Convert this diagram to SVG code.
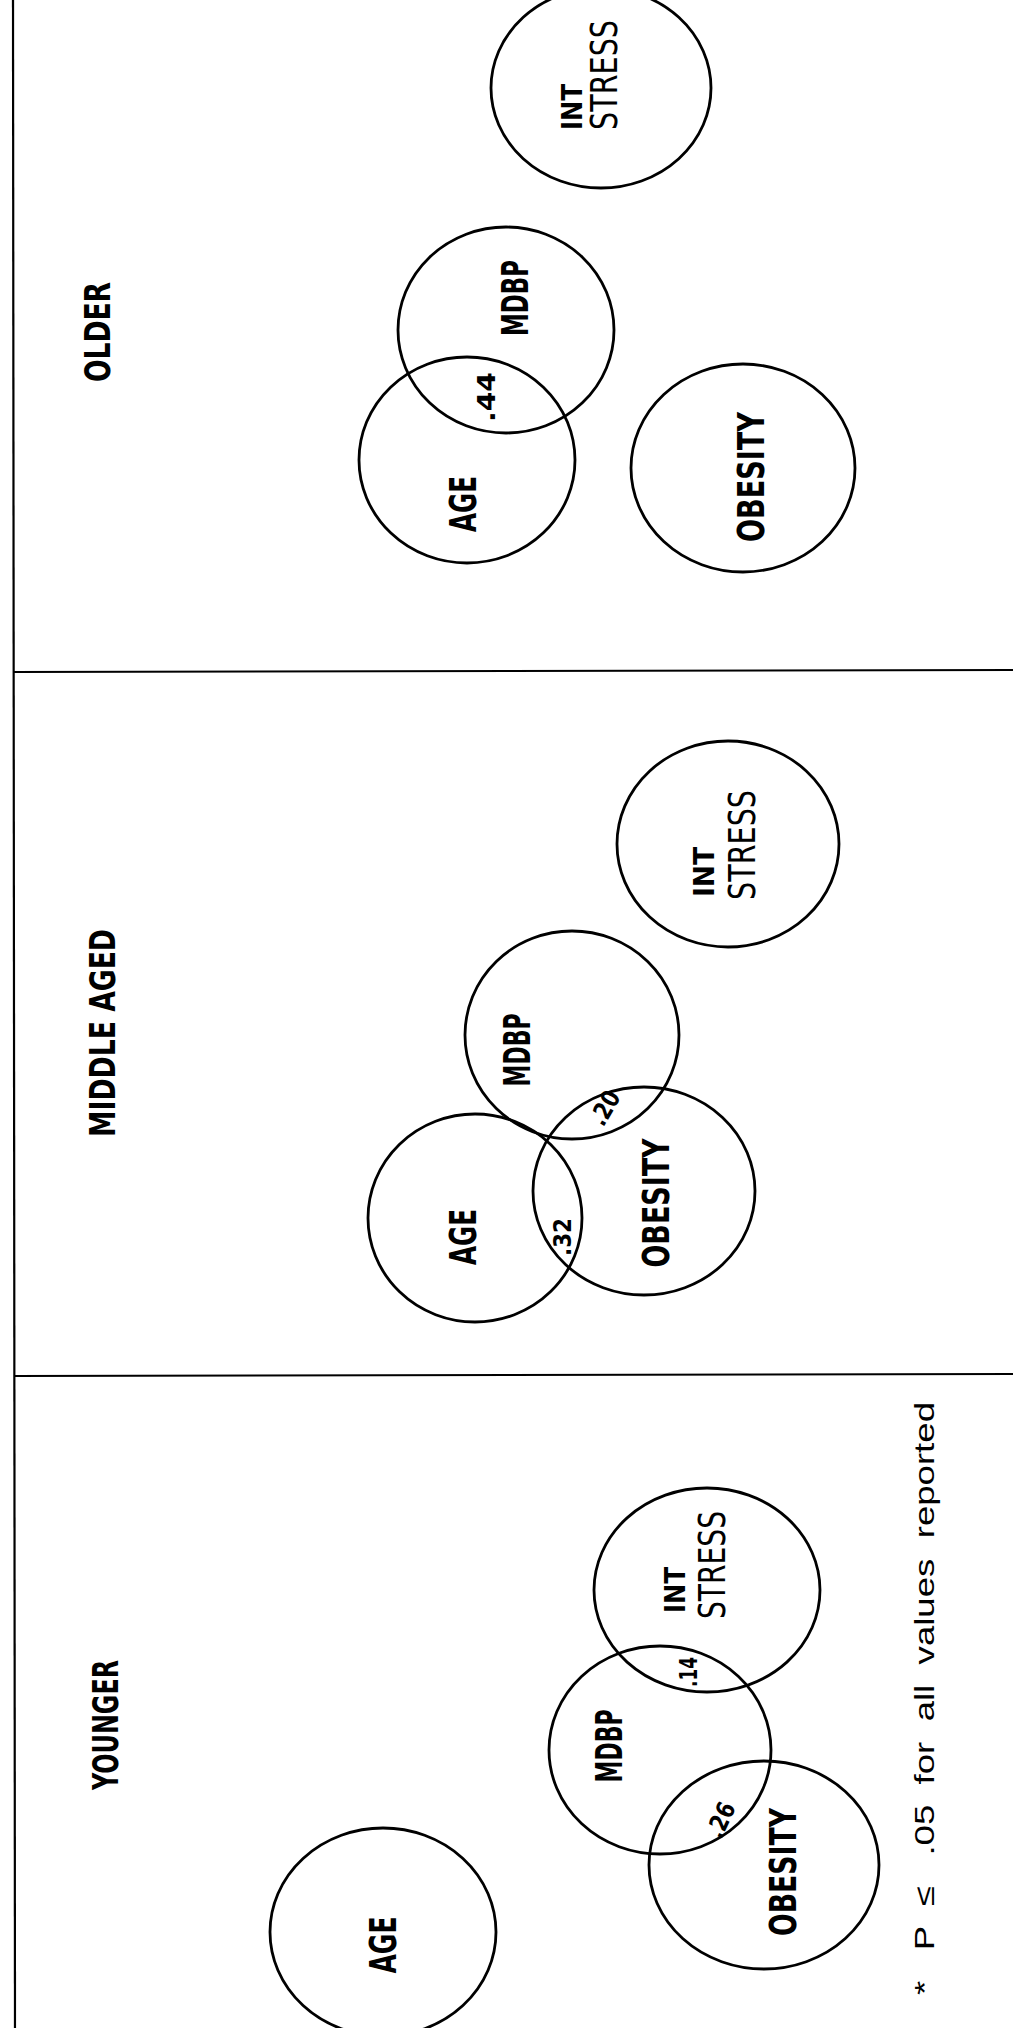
<svg xmlns="http://www.w3.org/2000/svg" width="1013" height="2028" viewBox="0 0 1013 2028">
<style>
.bg{fill:#ffffff}
.rule{stroke:#000;stroke-width:2.2;fill:none}
.c{fill:none;stroke:#000;stroke-width:2.8}
text{fill:#000}
.lbl{font-family:"DejaVu Sans Condensed","Liberation Sans Narrow","Liberation Sans",sans-serif;font-stretch:condensed;font-weight:bold;font-size:38px}
.ttl{font-family:"DejaVu Sans Condensed","Liberation Sans Narrow","Liberation Sans",sans-serif;font-stretch:condensed;font-weight:bold;font-size:36px}
.int{font-family:"DejaVu Sans Condensed","Liberation Sans Narrow","Liberation Sans",sans-serif;font-stretch:condensed;font-weight:bold;font-size:28px}
.st{font-family:"DejaVu Sans Condensed","Liberation Sans Narrow","Liberation Sans",sans-serif;font-stretch:condensed;font-weight:normal;font-size:37px}
.num{font-family:"DejaVu Sans","Liberation Sans",sans-serif;font-weight:bold;font-size:25px}
.fn{font-family:"Liberation Sans","DejaVu Sans",sans-serif;font-size:28px}
</style>
<rect class="bg" x="0" y="0" width="1013" height="2028"/>
<g id="frame">
<line class="rule" x1="13" y1="0" x2="15" y2="2028"/>
<line class="rule" x1="13" y1="672" x2="1013" y2="670"/>
<line class="rule" x1="14" y1="1376" x2="1013" y2="1374"/>
</g>
<g id="connectors"></g>

<!-- OLDER -->
<g id="older-title"><text class="ttl" transform="translate(97,332) rotate(-90)" text-anchor="middle" dominant-baseline="central" textLength="100" lengthAdjust="spacingAndGlyphs">OLDER</text></g>
<g id="older-intstress">
<ellipse class="c" cx="601" cy="88" rx="110" ry="100"/>
<text class="int" transform="translate(572,130) rotate(-90)" text-anchor="start" dominant-baseline="central" textLength="46" lengthAdjust="spacingAndGlyphs">INT</text>
<text class="st" transform="translate(604,130) rotate(-90)" text-anchor="start" dominant-baseline="central" textLength="110" lengthAdjust="spacingAndGlyphs">STRESS</text>
</g>
<g id="older-mdbp">
<ellipse class="c" cx="506" cy="330" rx="108" ry="103"/>
<text class="lbl" transform="translate(515,298) rotate(-90)" text-anchor="middle" dominant-baseline="central" textLength="76" lengthAdjust="spacingAndGlyphs">MDBP</text>
</g>
<g id="older-age">
<ellipse class="c" cx="467" cy="460" rx="108" ry="103"/>
<text class="lbl" transform="translate(463,504) rotate(-90)" text-anchor="middle" dominant-baseline="central" textLength="56" lengthAdjust="spacingAndGlyphs">AGE</text>
</g>
<g id="older-obesity">
<ellipse class="c" cx="743" cy="468" rx="112" ry="104"/>
<text class="lbl" transform="translate(751,477) rotate(-90)" text-anchor="middle" dominant-baseline="central" textLength="130" lengthAdjust="spacingAndGlyphs">OBESITY</text>
</g>
<g id="older-r"><text class="num" transform="translate(486,397) rotate(-90)" text-anchor="middle" dominant-baseline="central" textLength="50" lengthAdjust="spacingAndGlyphs">.44</text></g>

<!-- MIDDLE AGED -->
<g id="middle-title"><text class="ttl" transform="translate(102,1033) rotate(-90)" text-anchor="middle" dominant-baseline="central" textLength="208" lengthAdjust="spacingAndGlyphs">MIDDLE AGED</text></g>
<g id="middle-intstress">
<ellipse class="c" cx="728" cy="844" rx="111" ry="103"/>
<text class="int" transform="translate(704,897) rotate(-90)" text-anchor="start" dominant-baseline="central" textLength="50" lengthAdjust="spacingAndGlyphs">INT</text>
<text class="st" transform="translate(742,900) rotate(-90)" text-anchor="start" dominant-baseline="central" textLength="110" lengthAdjust="spacingAndGlyphs">STRESS</text>
</g>
<g id="middle-mdbp">
<ellipse class="c" cx="572" cy="1035" rx="107" ry="104"/>
<text class="lbl" transform="translate(517,1050) rotate(-90)" text-anchor="middle" dominant-baseline="central" textLength="73" lengthAdjust="spacingAndGlyphs">MDBP</text>
</g>
<g id="middle-age">
<ellipse class="c" cx="475" cy="1218" rx="107" ry="104"/>
<text class="lbl" transform="translate(463,1237) rotate(-90)" text-anchor="middle" dominant-baseline="central" textLength="56" lengthAdjust="spacingAndGlyphs">AGE</text>
</g>
<g id="middle-obesity">
<ellipse class="c" cx="644" cy="1191" rx="111" ry="104"/>
<text class="lbl" transform="translate(656,1203) rotate(-90)" text-anchor="middle" dominant-baseline="central" textLength="129" lengthAdjust="spacingAndGlyphs">OBESITY</text>
</g>
<g id="middle-r1"><text class="num" transform="translate(562,1237) rotate(-90)" text-anchor="middle" dominant-baseline="central" textLength="38" lengthAdjust="spacingAndGlyphs">.32</text></g>
<g id="middle-r2"><text class="num" transform="translate(605,1108) rotate(-60)" text-anchor="middle" dominant-baseline="central" textLength="36" lengthAdjust="spacingAndGlyphs">.20</text></g>

<!-- YOUNGER -->
<g id="younger-title"><text class="ttl" transform="translate(105,1725) rotate(-90)" text-anchor="middle" dominant-baseline="central" textLength="130" lengthAdjust="spacingAndGlyphs">YOUNGER</text></g>
<g id="younger-age">
<ellipse class="c" cx="383" cy="1932" rx="113" ry="104"/>
<text class="lbl" transform="translate(383,1945) rotate(-90)" text-anchor="middle" dominant-baseline="central" textLength="57" lengthAdjust="spacingAndGlyphs">AGE</text>
</g>
<g id="younger-mdbp">
<ellipse class="c" cx="660" cy="1750" rx="111" ry="104"/>
<text class="lbl" transform="translate(609,1746) rotate(-90)" text-anchor="middle" dominant-baseline="central" textLength="73" lengthAdjust="spacingAndGlyphs">MDBP</text>
</g>
<g id="younger-intstress">
<ellipse class="c" cx="707" cy="1590" rx="113" ry="102"/>
<text class="int" transform="translate(675,1613) rotate(-90)" text-anchor="start" dominant-baseline="central" textLength="46" lengthAdjust="spacingAndGlyphs">INT</text>
<text class="st" transform="translate(712,1619) rotate(-90)" text-anchor="start" dominant-baseline="central" textLength="108" lengthAdjust="spacingAndGlyphs">STRESS</text>
</g>
<g id="younger-obesity">
<ellipse class="c" cx="764" cy="1865" rx="115" ry="104"/>
<text class="lbl" transform="translate(783,1872) rotate(-90)" text-anchor="middle" dominant-baseline="central" textLength="128" lengthAdjust="spacingAndGlyphs">OBESITY</text>
</g>
<g id="younger-r1"><text class="num" transform="translate(688,1672) rotate(-90)" text-anchor="middle" dominant-baseline="central" textLength="30" lengthAdjust="spacingAndGlyphs">.14</text></g>
<g id="younger-r2"><text class="num" transform="translate(721,1820) rotate(-65)" text-anchor="middle" dominant-baseline="central" textLength="36" lengthAdjust="spacingAndGlyphs">.26</text></g>

<g id="footnote"><text class="fn" transform="translate(924,1995) rotate(-90)" text-anchor="start" dominant-baseline="central" textLength="593" lengthAdjust="spacingAndGlyphs" xml:space="preserve">*   P  ≤   .05  for  all  values  reported</text></g>
</svg>
